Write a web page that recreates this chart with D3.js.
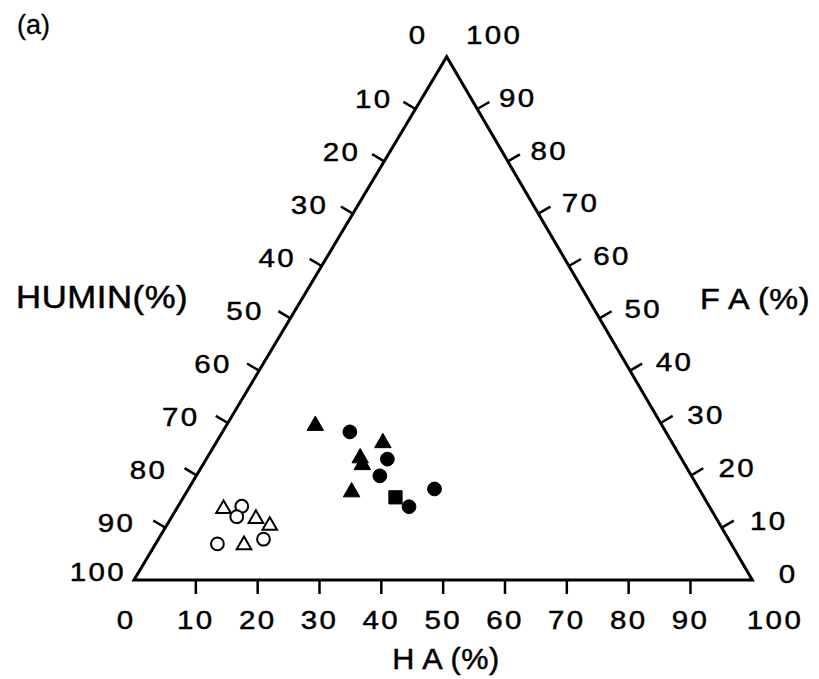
<!DOCTYPE html>
<html>
<head>
<meta charset="utf-8">
<script src="https://cdn.jsdelivr.net/npm/d3@7"></script>
<style>
  body { margin: 0; background: #fff; }
  svg { display: block; }
  text { font-family: "Liberation Sans", Arial, Helvetica, sans-serif; fill: #000; stroke: #000; }
</style>
</head>
<body>
<svg id="chart" width="819" height="679"></svg>
<script>
// Humus fractions, each sample as [HA %, FA %, HUMIN %]
const tickValues = [0, 10, 20, 30, 40, 50, 60, 70, 80, 90, 100];
const tickLabels = ["0", "10", "20", "30", "40", "50", "60", "70", "80", "90", "100"];
const axisTitles = ["H A (%)", "F A (%)", "HUMIN(%)"];
const panelLabel = "(a)";

const openTriangles = [[7.6, 13.6, 78.8], [13.8, 11.7, 74.5], [16.7, 10.4, 72.9], [14.4, 6.7, 78.9]];
const openCircles = [[10.3, 14.1, 75.6], [10.5, 12.1, 77.4], [10.0, 6.9, 83.1], [17.0, 7.8, 75.2]];
const filledTriangles = [[14.4, 29.5, 56.1], [27.0, 26.2, 46.8], [24.8, 23.3, 51.9], [25.8, 22.0, 52.2], [26.7, 16.8, 56.5]];
const filledCircles = [[20.6, 28.3, 51.1], [29.3, 23.1, 47.6], [29.7, 19.9, 50.4], [37.4, 14.0, 48.6], [39.8, 17.4, 42.8]];
const filledSquares = [[34.3, 15.8, 49.9]];

const svg = d3.select("#chart");

// Triangle corners: pure HUMIN (bottom left), pure HA (bottom right), pure FA (apex)
const P = { humin: [134, 580], ha: [752.3, 580], fa: [446.7, 56.7] };

// percent -> fraction
const frac = d3.scaleLinear().domain([0, 100]).range([0, 1]);

// Edge scales
const haX = d3.scaleLinear().domain([0, 100]).range([P.humin[0], P.ha[0]]);          // bottom edge
const huminX = d3.scaleLinear().domain([0, 100]).range([P.fa[0], P.humin[0]]);      // left edge
const huminY = d3.scaleLinear().domain([0, 100]).range([P.fa[1], P.humin[1]]);
const faX = d3.scaleLinear().domain([0, 100]).range([P.ha[0], P.fa[0]]);            // right edge
const faY = d3.scaleLinear().domain([0, 100]).range([P.ha[1], P.fa[1]]);

function project(d) {
  const a = frac(d[0]), f = frac(d[1]), h = frac(d[2]);
  const s = a + f + h;
  return [
    (a * P.ha[0] + f * P.fa[0] + h * P.humin[0]) / s,
    (a * P.ha[1] + f * P.fa[1] + h * P.humin[1]) / s
  ];
}

// Outline
svg.append("path")
  .attr("d", d3.line()([P.humin, P.ha, P.fa, P.humin]) + "Z")
  .attr("fill", "none")
  .attr("stroke", "#000")
  .attr("stroke-width", 3)
  .attr("stroke-linejoin", "miter");

function unit(v) { const l = Math.hypot(v[0], v[1]); return [v[0] / l, v[1] / l]; }
const nLeft = (() => { const e = unit([P.fa[0] - P.humin[0], P.fa[1] - P.humin[1]]); return [e[1], -e[0]]; })();
const nRight = (() => { const e = unit([P.ha[0] - P.fa[0], P.ha[1] - P.fa[1]]); return [e[1], -e[0]]; })();
const tickLen = 14;
const inner = tickValues.filter(v => v > 0 && v < 100);

const ticks = svg.append("g").attr("stroke", "#000").attr("stroke-width", 2.5);

// bottom ticks (HA)
inner.forEach(v => {
  const x = haX(v), y = P.ha[1];
  ticks.append("line").attr("x1", x).attr("y1", y).attr("x2", x).attr("y2", y + tickLen);
});
// left ticks (HUMIN)
inner.forEach(v => {
  const x = huminX(v), y = huminY(v);
  ticks.append("line").attr("x1", x).attr("y1", y)
    .attr("x2", x + nLeft[0] * tickLen).attr("y2", y + nLeft[1] * tickLen);
});
// right ticks (FA)
inner.forEach(v => {
  const x = faX(v), y = faY(v);
  ticks.append("line").attr("x1", x).attr("y1", y)
    .attr("x2", x + nRight[0] * tickLen).attr("y2", y + nRight[1] * tickLen);
});

// Text with the wide, heavy lettering of the figure
function label(str, x, y, size, anchor, sx, spacing, weight) {
  svg.append("text")
    .attr("transform", `translate(${x},${y}) scale(${sx},1)`)
    .attr("text-anchor", anchor)
    .attr("dy", "0.36em")
    .attr("font-size", size)
    .attr("letter-spacing", spacing)
    .attr("stroke-width", weight)
    .text(str);
}

const numSize = 25, numSx = 1.18, numSp = 2, numW = 0.45;

// bottom labels
tickValues.forEach((v, i) => {
  let x = haX(v);
  if (v === 0) x = 126;
  if (v === 100) x = 775;
  label(tickLabels[i], x, 620, numSize, "middle", numSx, numSp, numW);
});

// left labels (HUMIN, 0 at apex)
tickValues.forEach((v, i) => {
  if (v === 0) { label(tickLabels[i], 418, 35, numSize, "middle", numSx, numSp, numW); return; }
  if (v === 100) { label(tickLabels[i], 126, 572, numSize, "end", numSx, numSp, numW); return; }
  const t = frac(v);
  label(tickLabels[i], huminX(v) - (22 + 9 * t), huminY(v) - 11 + 7 * t, numSize, "end", numSx, numSp, numW);
});

// right labels (FA, 100 at apex)
tickValues.forEach((v, i) => {
  if (v === 100) { label(tickLabels[i], 466, 35, numSize, "start", numSx, numSp, numW); return; }
  if (v === 0) { label(tickLabels[i], 788, 574, numSize, "middle", numSx, numSp, numW); return; }
  const t = 1 - frac(v);
  label(tickLabels[i], faX(v) + 21 + 8 * t, faY(v) - 12 + 6 * t, numSize, "start", numSx, numSp, numW);
});

// axis titles
label(axisTitles[0], 446, 658, 30, "middle", 1.02, 0.5, 0.5);
label(axisTitles[1], 700, 298, 30, "start", 1.08, 0.5, 0.5);
label(axisTitles[2], 16, 297, 31, "start", 1.12, 0.5, 0.5);
label(panelLabel, 17, 24, 27, "start", 1.0, 0, 0.3);

// Samples
const marks = svg.append("g");
function drawSymbols(data, type, size, filled) {
  marks.selectAll(null)
    .data(data)
    .join("path")
    .attr("transform", d => { const p = project(d); return `translate(${p[0]},${p[1]})`; })
    .attr("d", d3.symbol().type(type).size(size))
    .attr("fill", filled ? "#000" : "#fff")
    .attr("stroke", "#000")
    .attr("stroke-width", filled ? 1 : 2);
}
drawSymbols(openTriangles, d3.symbolTriangle, 92, false);
drawSymbols(openCircles, d3.symbolCircle, Math.PI * 6.4 * 6.4, false);
drawSymbols(filledTriangles, d3.symbolTriangle, 118, true);
drawSymbols(filledSquares, d3.symbolSquare, 175, true);
drawSymbols(filledCircles, d3.symbolCircle, Math.PI * 6.9 * 6.9, true);
</script>
</body>
</html>
